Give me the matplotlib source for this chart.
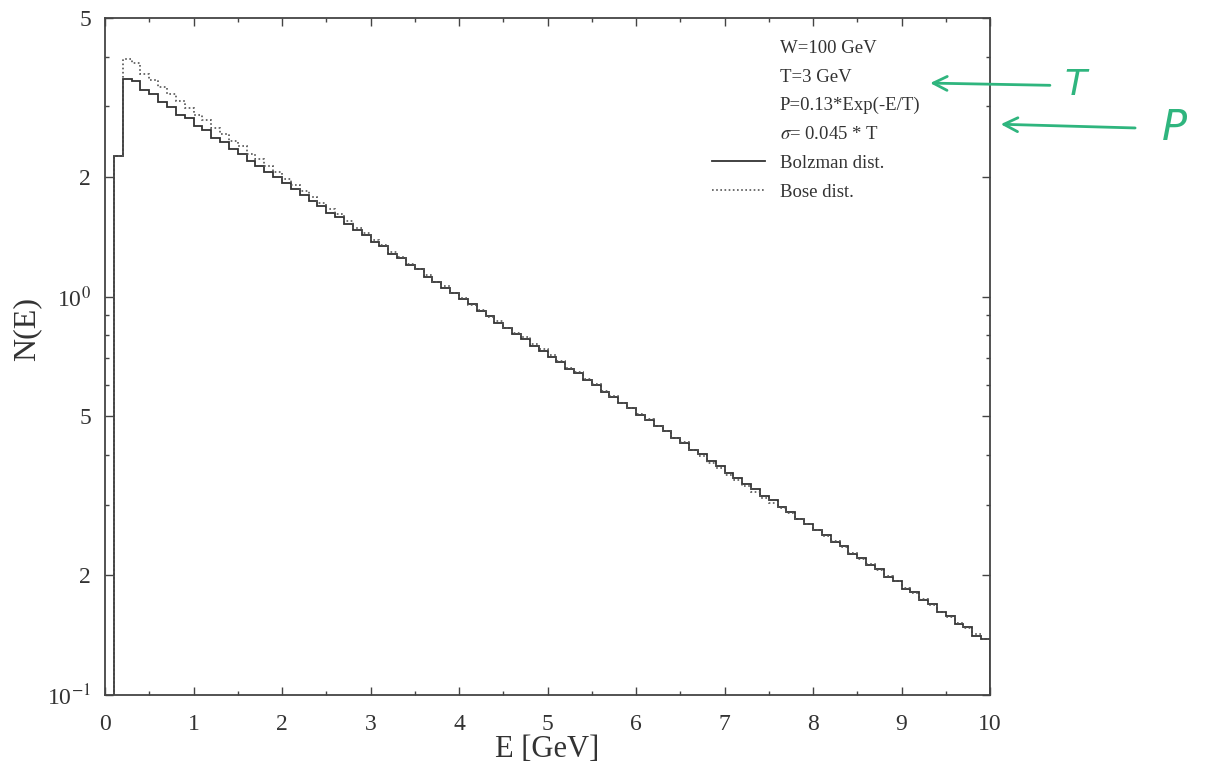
import matplotlib
matplotlib.use("Agg")
import matplotlib.pyplot as plt
from matplotlib.lines import Line2D
from matplotlib.ticker import FixedLocator, NullFormatter, MultipleLocator
import numpy as np

plt.rcParams['font.family'] = ['Liberation Serif', 'DejaVu Serif']
plt.rcParams['mathtext.fontset'] = 'stix'

# histogram bins: 0.1 GeV wide, from 0.1 to 10 GeV
bin_edges = np.linspace(0.1, 10.0, 100)

bolzman = [2.25, 3.52, 3.48,
           3.30, 3.22, 3.08, 2.99, 2.86, 2.80, 2.68, 2.62, 2.50, 2.44,
           2.34, 2.28, 2.19, 2.13, 2.05, 1.99, 1.93, 1.86, 1.80, 1.74,
           1.69, 1.62, 1.58, 1.52, 1.47, 1.43, 1.37, 1.34, 1.28, 1.25,
           1.20, 1.17, 1.12, 1.09, 1.05, 1.02, 0.985, 0.955, 0.920, 0.893,
           0.860, 0.836, 0.805, 0.782, 0.752, 0.732, 0.704, 0.685, 0.658, 0.641,
           0.616, 0.600, 0.576, 0.561, 0.539, 0.525, 0.505, 0.490, 0.472, 0.459,
           0.441, 0.430, 0.413, 0.402, 0.386, 0.376, 0.361, 0.351, 0.338, 0.329,
           0.316, 0.308, 0.296, 0.288, 0.277, 0.269, 0.259, 0.252, 0.242, 0.236,
           0.226, 0.221, 0.212, 0.207, 0.198, 0.193, 0.185, 0.181, 0.173, 0.169,
           0.162, 0.158, 0.151, 0.148, 0.141, 0.138]

bose = [2.25, 3.95, 3.85,
        3.62, 3.50, 3.36, 3.22, 3.10, 2.98, 2.86, 2.77, 2.65, 2.56,
        2.46, 2.38, 2.28, 2.21, 2.12, 2.05, 1.97, 1.91, 1.84, 1.78,
        1.72, 1.66, 1.61, 1.55, 1.49, 1.44, 1.39, 1.35, 1.29, 1.26,
        1.21, 1.17, 1.13, 1.09, 1.06, 1.02, 0.99, 0.952, 0.925, 0.890,
        0.866, 0.835, 0.812, 0.790, 0.762, 0.740, 0.712, 0.690, 0.662, 0.645,
        0.620, 0.602, 0.580, 0.563, 0.541, 0.526, 0.507, 0.492, 0.474, 0.460,
        0.442, 0.431, 0.411, 0.399, 0.383, 0.372, 0.357, 0.346, 0.334, 0.324,
        0.313, 0.304, 0.294, 0.286, 0.276, 0.268, 0.259, 0.251, 0.243, 0.235,
        0.227, 0.220, 0.213, 0.206, 0.199, 0.193, 0.186, 0.180, 0.174, 0.168,
        0.162, 0.157, 0.152, 0.147, 0.142, 0.138]

y_ticks = [0.1, 0.2, 0.5, 1.0, 2.0, 5.0]
y_ticklabels = ['10$^{-1}$', '2', '5', '10$^{0}$', '2', '5']
x_ticks = list(range(0, 11))

info_lines = ['W=100 GeV', 'T=3 GeV', 'P=0.13*Exp(-E/T)', '$\\sigma$= 0.045 * T']

fig = plt.figure(figsize=(12.17, 7.76), dpi=100)
ax = fig.add_axes([0.0863, 0.1044, 0.7272, 0.8724])

ax.stairs(bolzman, bin_edges, baseline=1e-3, color='#333333', lw=1.3)
ax.stairs(bose, bin_edges, baseline=1e-3, color='#555555', lw=1.2, linestyle=(0, (1, 1.5)))

ax.set_yscale('log')
ax.set_xlim(0, 10)
ax.set_ylim(0.1, 5)

ax.yaxis.set_major_locator(FixedLocator(y_ticks))
ax.set_yticklabels(y_ticklabels)
ax.yaxis.set_minor_locator(FixedLocator([0.3, 0.4, 0.6, 0.7, 0.8, 0.9, 3, 4]))
ax.yaxis.set_minor_formatter(NullFormatter())
ax.set_xticks(x_ticks)
ax.xaxis.set_minor_locator(MultipleLocator(0.5))

ax.tick_params(which='both', direction='in', top=True, right=True, colors='#444444',
               labelcolor='#333333', labelsize=17)
ax.tick_params(which='major', length=6, width=1)
ax.tick_params(which='minor', length=3, width=1)
ax.tick_params(axis='x', pad=14)
ax.tick_params(axis='y', pad=10)
for s in ax.spines.values():
    s.set_color('#444444')
    s.set_linewidth(1.3)

ax.set_xlabel('E [GeV]', fontsize=22, color='#333333', labelpad=0)
ax.set_ylabel('N(E)', fontsize=23, color='#333333')
ax.yaxis.set_label_coords(-0.072, 0.54)

handles = [Line2D([], [], color='none') for _ in info_lines]
handles += [Line2D([], [], color='#333333', lw=1.3),
            Line2D([], [], color='#555555', lw=1.2, linestyle=(0, (1, 1.5)))]
labels = info_lines + ['Bolzman dist.', 'Bose dist.']
leg = ax.legend(handles, labels, loc='upper left', bbox_to_anchor=(0.686, 0.968),
                frameon=False, fontsize=13.5, handlelength=2.8, labelspacing=0.62,
                handletextpad=0.8, borderpad=0, borderaxespad=0)
for t in leg.get_texts():
    t.set_color('#333333')

# handwritten green marks on the scan
green = '#2fb57e'
fig.text(0.875, 0.878, 'T', color=green, fontsize=26, style='italic', family='DejaVu Sans')
fig.text(0.955, 0.820, 'P', color=green, fontsize=30, style='italic', family='DejaVu Sans')
ax.annotate('', xy=(0.762, 0.893), xycoords='figure fraction', xytext=(0.865, 0.890),
            arrowprops=dict(arrowstyle='->', color=green, lw=2, mutation_scale=25))
ax.annotate('', xy=(0.820, 0.840), xycoords='figure fraction', xytext=(0.935, 0.835),
            arrowprops=dict(arrowstyle='->', color=green, lw=2, mutation_scale=25))

plt.savefig('out.png', dpi=100)
